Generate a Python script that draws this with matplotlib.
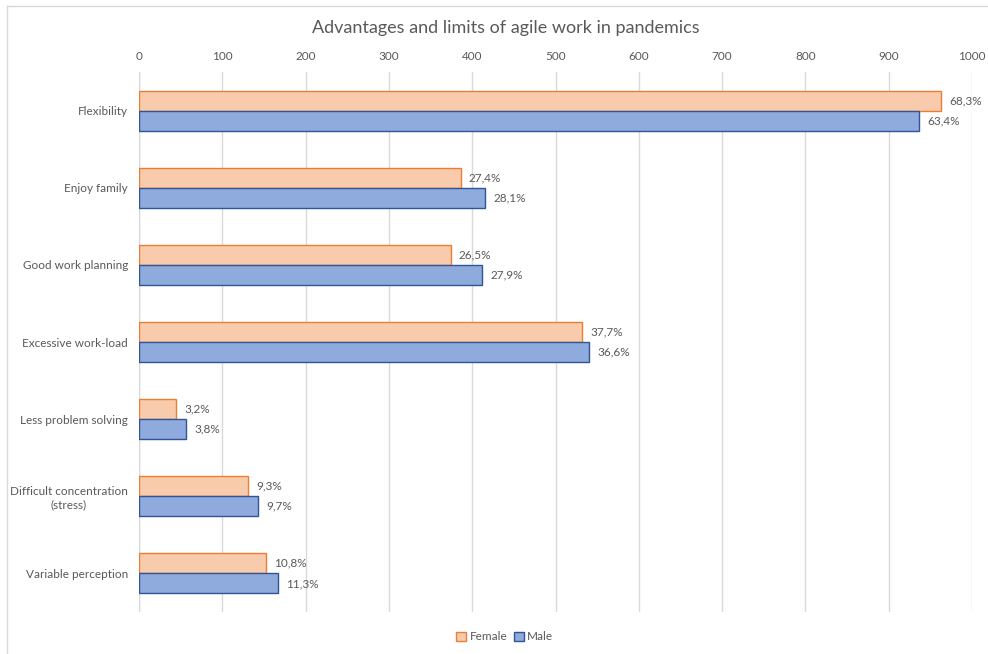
import numpy as np
import matplotlib
matplotlib.use("Agg")
import matplotlib.pyplot as plt
from matplotlib.patches import Patch
from matplotlib.lines import Line2D

plt.rcParams['font.family'] = ['Lato', 'DejaVu Sans']

categories = ["Flexibility", "Enjoy family", "Good work planning",
              "Excessive work-load", "Less problem solving",
              "Difficult concentration\n(stress)", "Variable perception"]
female = [963, 386, 374, 532, 45, 131, 152]
male = [936, 415, 412, 540, 56, 143, 167]
female_pct = ["68,3%", "27,4%", "26,5%", "37,7%", "3,2%", "9,3%", "10,8%"]
male_pct = ["63,4%", "28,1%", "27,9%", "36,6%", "3,8%", "9,7%", "11,3%"]
xticks = list(range(0, 1001, 100))

text_col = "#595959"
grid_col = "#D9D9D9"

fig = plt.figure(figsize=(9.88, 6.54), dpi=100)
ax = fig.add_axes([0.1407, 0.0642, 0.8431, 0.8257])

y = np.arange(len(categories))
h = 0.26
ax.barh(y - h / 2, female, height=h, color="#F8CBAD", edgecolor="#ED7D31",
        linewidth=1, label="Female", zorder=3)
ax.barh(y + h / 2, male, height=h, color="#8FAADC", edgecolor="#2F5597",
        linewidth=1, label="Male", zorder=3)

for yi, v, t in zip(y, female, female_pct):
    ax.annotate(t, (v, yi - h / 2), xytext=(6, 0), textcoords="offset points",
                va="center", ha="left", fontsize=8.5, color=text_col)
for yi, v, t in zip(y, male, male_pct):
    ax.annotate(t, (v, yi + h / 2), xytext=(6, 0), textcoords="offset points",
                va="center", ha="left", fontsize=8.5, color=text_col)

ax.set_xlim(0, 1000)
ax.set_ylim(len(categories) - 0.5, -0.5)
ax.set_xticks(xticks)
ax.xaxis.tick_top()
ax.tick_params(axis="x", length=0, pad=7, labelsize=8.5, labelcolor=text_col)
ax.set_yticks(y)
ax.set_yticklabels(categories, fontsize=8.5, color=text_col, ha="right",
                   multialignment="center")
ax.tick_params(axis="y", length=0, pad=8)
ax.grid(axis="x", color=grid_col, linewidth=1, zorder=0)
for s in ax.spines.values():
    s.set_visible(False)
ax.axvline(0, color=grid_col, linewidth=1, zorder=1)

fig.text(0.5115, 0.957, "Advantages and limits of agile work in pandemics",
         ha="center", va="center", fontsize=13, color=text_col)

handles = [Patch(facecolor="#F8CBAD", edgecolor="#ED7D31", label="Female"),
           Patch(facecolor="#8FAADC", edgecolor="#2F5597", label="Male")]
fig.legend(handles=handles, loc="center", bbox_to_anchor=(0.511, 0.026), ncol=2,
           frameon=False, fontsize=8.5, handlelength=0.8, handleheight=0.8,
           handletextpad=0.3, columnspacing=0.6, labelcolor=text_col)

# light frame along the top and left edge
fig.add_artist(Line2D([0.007, 1.0], [0.991, 0.991], color="#D9D9D9", linewidth=1))
fig.add_artist(Line2D([0.007, 0.007], [0.0, 0.991], color="#D9D9D9", linewidth=1))

fig.savefig("out.png", dpi=100)
